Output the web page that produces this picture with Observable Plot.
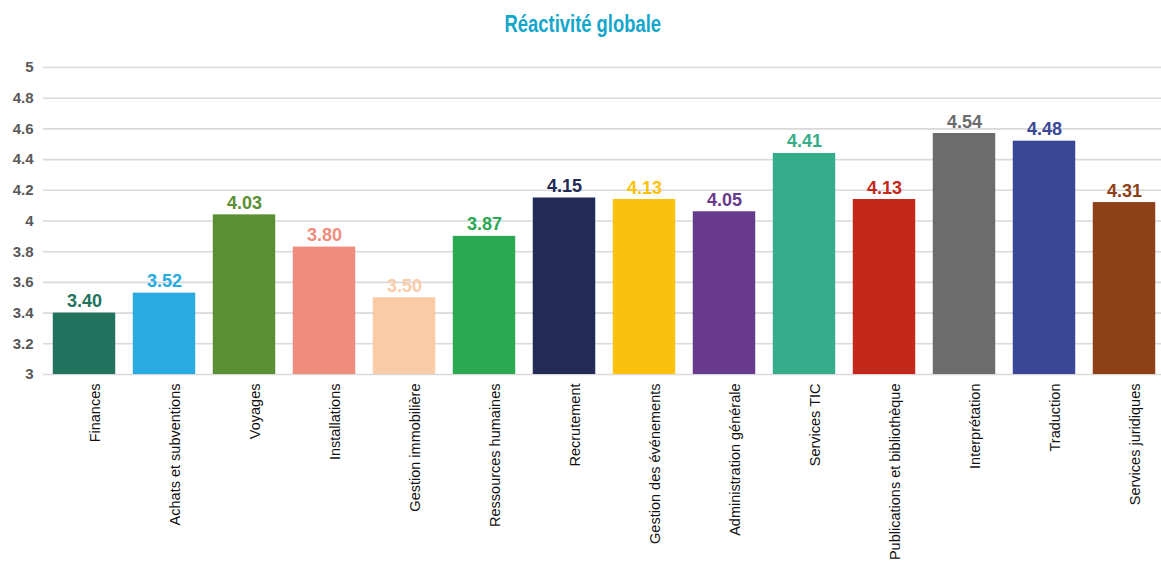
<!DOCTYPE html>
<html>
<head>
<meta charset="utf-8">
<script src="https://cdn.jsdelivr.net/npm/d3@7"></script>
<script src="https://cdn.jsdelivr.net/npm/@observablehq/plot@0.6"></script>
<style>
  html, body { margin: 0; padding: 0; background: #fff; overflow: hidden; }
  #title {
    height: 50px; line-height: 48px; text-align: center;
    padding-left: 4px;
  }
  #title span {
    display: inline-block;
    font-family: "Liberation Sans", Arial, sans-serif;
    font-weight: bold; font-size: 23px; color: #13A6CB;
    transform: scaleX(0.8);
  }
</style>
</head>
<body>
<div id="title"><span>Réactivité globale</span></div>
<div id="chart"></div>
<script>
const categories = ["Finances", "Achats et subventions", "Voyages", "Installations", "Gestion immobilière", "Ressources humaines", "Recrutement", "Gestion des événements", "Administration générale", "Services TIC", "Publications et bibliothèque", "Interprétation", "Traduction", "Services juridiques"];
const barHeights = [3.40, 3.53, 4.04, 3.83, 3.50, 3.90, 4.15, 4.14, 4.06, 4.44, 4.14, 4.57, 4.52, 4.12];
const valueLabels = ["3.40", "3.52", "4.03", "3.80", "3.50", "3.87", "4.15", "4.13", "4.05", "4.41", "4.13", "4.54", "4.48", "4.31"];
const barColors = ["#22735D", "#29ABE2", "#5A8F32", "#F08C7C", "#F9CBA7", "#2AA852", "#212B55", "#FBC10E", "#673A8D", "#36AD8A", "#C3291B", "#6C6C6C", "#3A4796", "#8E4017"];
const yTicks = [3, 3.2, 3.4, 3.6, 3.8, 4, 4.2, 4.4, 4.6, 4.8, 5];
const yTickLabels = ["3", "3.2", "3.4", "3.6", "3.8", "4", "4.2", "4.4", "4.6", "4.8", "5"];

const data = categories.map((name, i) => ({name, v: barHeights[i], label: valueLabels[i], color: barColors[i]}));
const ticks = yTicks.map((t, i) => ({t, label: yTickLabels[i]}));

const font = `"Liberation Sans", Arial, sans-serif`;

const chart = Plot.plot({
  width: 1161,
  height: 520,
  marginLeft: 40.2,
  marginRight: -6.8,
  marginTop: 17,
  marginBottom: 196,
  style: {fontFamily: font, background: "#fff", overflow: "visible"},
  x: {domain: categories, padding: 0, axis: null},
  y: {domain: [3, 5], axis: null},
  color: {type: "identity"},
  marks: [
    Plot.ruleY(ticks, {y: "t", stroke: "#d9d9d9", strokeWidth: 1.6, insetLeft: 2.8}),
    Plot.barY(data, {x: "name", y1: 3, y2: "v", fill: "color", insetLeft: 8.77, insetRight: 8.77}),
    Plot.text(ticks, {y: "t", text: "label", frameAnchor: "left", textAnchor: "end", dx: -7.2,
      fill: "#595959", fontWeight: "bold", fontSize: 15}),
    Plot.text(data, {x: "name", y: "v", text: "label", fill: "color", lineAnchor: "bottom", dy: -6,
      fontWeight: "bold", fontSize: 18}),
    Plot.text(data, {x: "name", y: 3, text: "name", rotate: -90, textAnchor: "end", lineAnchor: "middle",
      dx: 11, dy: 9, fill: "#111", fontSize: 14.5})
  ]
});
document.getElementById("chart").appendChild(chart);
</script>
</body>
</html>
